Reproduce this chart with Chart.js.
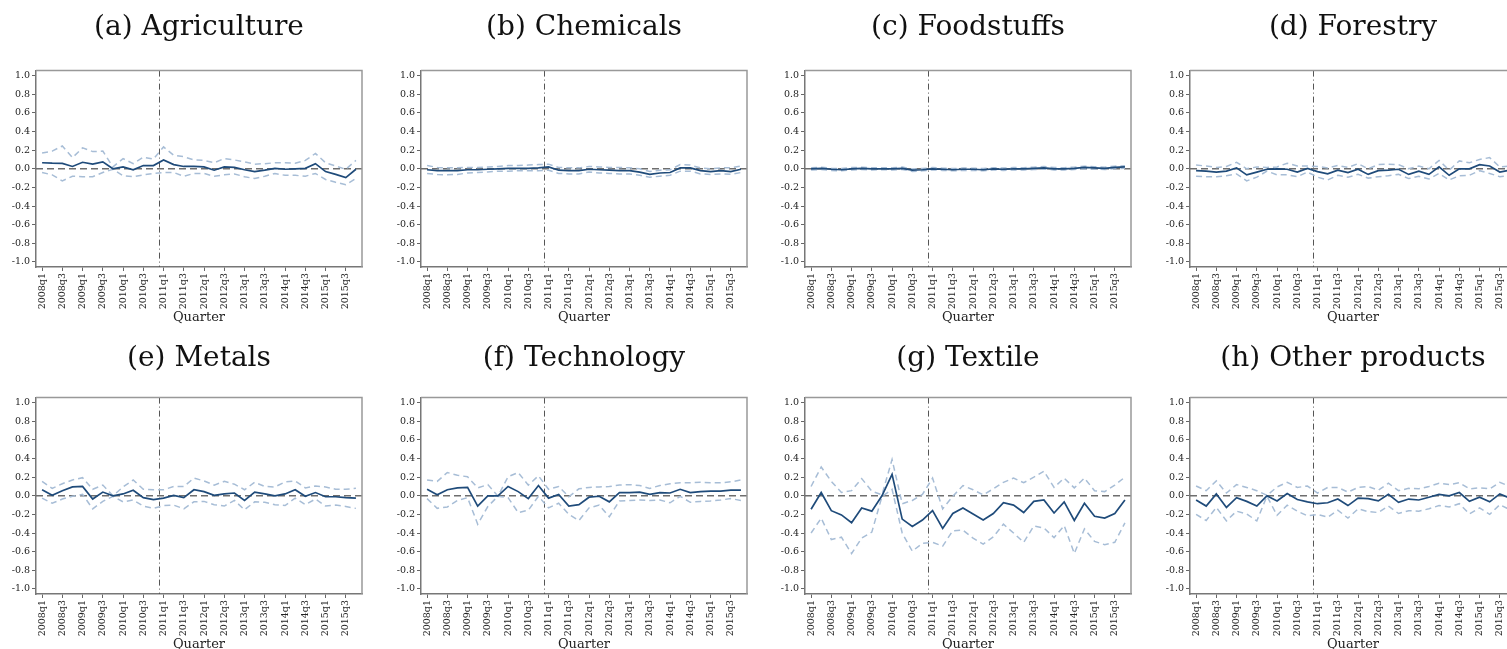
<!DOCTYPE html>
<html>
<head>
<meta charset="utf-8">
<script src="https://cdn.jsdelivr.net/npm/chart.js@4.4.1/dist/chart.umd.min.js"></script>
<style>
  body { margin: 0; background: #fff; width: 1507px; height: 649px; overflow: hidden; position: relative; }
  .panel { position: absolute; width: 385px; height: 327px; }
</style>
</head>
<body>
<script>
const quarters = ['2008q1','2008q2','2008q3','2008q4','2009q1','2009q2','2009q3','2009q4',
  '2010q1','2010q2','2010q3','2010q4','2011q1','2011q2','2011q3','2011q4',
  '2012q1','2012q2','2012q3','2012q4','2013q1','2013q2','2013q3','2013q4',
  '2014q1','2014q2','2014q3','2014q4','2015q1','2015q2','2015q3','2015q4'];
const yTicks = [-1.0, -0.8, -0.6, -0.4, -0.2, 0.0, 0.2, 0.4, 0.6, 0.8, 1.0];
const breakAt = 11.5; // between 2010q4 and 2011q1
const titles = ['(a) Agriculture', '(b) Chemicals', '(c) Foodstuffs', '(d) Forestry',
  '(e) Metals', '(f) Technology', '(g) Textile', '(h) Other products'];

const agriEst = [0.065,0.06,0.058,0.025,0.07,0.05,0.075,0.0,0.02,-0.01,0.035,0.035,0.095,0.045,0.025,0.025,0.02,-0.015,0.02,0.015,-0.01,-0.03,-0.015,0.005,-0.005,0.0,0.005,0.055,-0.03,-0.06,-0.095,-0.005];
const agriHi = [0.17,0.19,0.245,0.12,0.225,0.185,0.19,0.02,0.11,0.055,0.125,0.105,0.235,0.145,0.13,0.095,0.09,0.065,0.11,0.095,0.075,0.05,0.055,0.065,0.065,0.06,0.09,0.165,0.065,0.03,-0.005,0.09];
const agriLo = [-0.04,-0.065,-0.13,-0.08,-0.085,-0.085,-0.04,-0.005,-0.075,-0.085,-0.065,-0.05,-0.04,-0.04,-0.08,-0.05,-0.05,-0.08,-0.065,-0.055,-0.085,-0.105,-0.08,-0.05,-0.07,-0.07,-0.08,-0.05,-0.115,-0.145,-0.17,-0.105];

const chemEst = [-0.01,-0.02,-0.02,-0.02,-0.01,-0.01,-0.005,0.0,0.005,0.005,0.005,0.01,0.02,-0.015,-0.02,-0.02,-0.005,-0.01,-0.015,-0.02,-0.02,-0.035,-0.06,-0.045,-0.04,0.01,0.01,-0.02,-0.03,-0.02,-0.03,-0.005];
const chemHi = [0.035,0.015,0.01,0.01,0.015,0.015,0.02,0.025,0.035,0.035,0.04,0.045,0.05,0.015,0.01,0.01,0.025,0.02,0.015,0.015,0.01,0.0,-0.03,-0.015,-0.01,0.045,0.04,0.01,0.0,0.01,0.01,0.03];
const chemLo = [-0.05,-0.06,-0.065,-0.06,-0.045,-0.04,-0.035,-0.025,-0.025,-0.02,-0.02,-0.02,-0.015,-0.05,-0.055,-0.055,-0.035,-0.045,-0.05,-0.055,-0.055,-0.07,-0.09,-0.08,-0.07,-0.025,-0.025,-0.055,-0.06,-0.055,-0.06,-0.04];

const foodEst = [0.0,0.005,-0.005,-0.01,0.0,0.005,0.0,0.0,0.0,0.005,-0.015,-0.01,0.0,-0.005,-0.01,-0.005,-0.005,-0.01,0.0,-0.005,0.0,0.0,0.005,0.01,0.0,0.0,0.005,0.015,0.01,0.005,0.015,0.02];
const foodHi = [0.012,0.016,0.006,0.003,0.013,0.017,0.012,0.011,0.012,0.018,-0.002,0.003,0.013,0.007,0.002,0.008,0.007,0.003,0.012,0.008,0.013,0.012,0.018,0.024,0.013,0.012,0.018,0.028,0.023,0.018,0.028,0.034];
const foodLo = [-0.012,-0.007,-0.017,-0.022,-0.012,-0.008,-0.012,-0.011,-0.012,-0.007,-0.028,-0.022,-0.012,-0.017,-0.022,-0.017,-0.017,-0.022,-0.012,-0.017,-0.012,-0.012,-0.008,-0.003,-0.012,-0.012,-0.008,0.002,-0.003,-0.008,0.002,0.006];

const forEst = [-0.02,-0.025,-0.035,-0.025,0.01,-0.065,-0.035,-0.005,0.0,-0.005,-0.035,0.005,-0.03,-0.055,-0.015,-0.04,-0.005,-0.06,-0.02,-0.015,-0.005,-0.06,-0.025,-0.06,0.02,-0.07,0.0,0.0,0.045,0.03,-0.035,-0.015];
const forHi = [0.04,0.03,0.015,0.025,0.07,0.0,0.02,0.015,0.02,0.06,0.03,0.03,0.025,0.01,0.035,0.015,0.055,0.0,0.045,0.05,0.045,0.0,0.03,0.0,0.09,-0.015,0.085,0.065,0.1,0.12,0.02,0.03];
const forLo = [-0.08,-0.085,-0.085,-0.075,-0.055,-0.13,-0.09,-0.025,-0.065,-0.065,-0.085,-0.035,-0.09,-0.12,-0.07,-0.09,-0.06,-0.1,-0.085,-0.075,-0.06,-0.105,-0.08,-0.11,-0.05,-0.12,-0.075,-0.07,-0.02,-0.05,-0.085,-0.07];

const metEst = [0.065,0.005,0.055,0.095,0.1,-0.035,0.04,0.0,0.02,0.06,-0.02,-0.04,-0.025,0.005,-0.02,0.065,0.045,0.005,0.02,0.03,-0.05,0.04,0.02,0.0,0.02,0.065,-0.005,0.035,-0.01,-0.01,-0.02,-0.025];
const metHi = [0.155,0.08,0.13,0.17,0.195,0.07,0.115,0.0,0.095,0.17,0.07,0.065,0.065,0.1,0.1,0.19,0.16,0.115,0.155,0.125,0.065,0.145,0.1,0.095,0.15,0.16,0.085,0.105,0.095,0.07,0.07,0.08];
const metLo = [-0.025,-0.08,-0.035,-0.005,0.015,-0.14,-0.06,-0.005,-0.065,-0.045,-0.11,-0.135,-0.105,-0.1,-0.14,-0.065,-0.06,-0.095,-0.11,-0.05,-0.15,-0.065,-0.07,-0.095,-0.105,-0.025,-0.095,-0.035,-0.11,-0.1,-0.115,-0.135];

const techEst = [0.07,0.01,0.065,0.085,0.09,-0.11,0.0,0.0,0.1,0.045,-0.03,0.11,-0.025,0.015,-0.11,-0.095,-0.015,-0.005,-0.065,0.035,0.035,0.04,0.015,0.035,0.03,0.07,0.035,0.045,0.05,0.05,0.06,0.06];
const techHi = [0.17,0.155,0.25,0.22,0.205,0.085,0.12,-0.005,0.205,0.25,0.115,0.215,0.07,0.1,-0.01,0.075,0.09,0.095,0.1,0.115,0.12,0.11,0.08,0.11,0.13,0.14,0.14,0.145,0.14,0.14,0.15,0.17];
const techLo = [-0.03,-0.135,-0.12,-0.05,-0.02,-0.305,-0.115,-0.005,-0.02,-0.18,-0.155,-0.005,-0.13,-0.08,-0.2,-0.265,-0.13,-0.1,-0.225,-0.055,-0.05,-0.045,-0.05,-0.045,-0.075,-0.005,-0.07,-0.06,-0.055,-0.045,-0.03,-0.05];

const texEst = [-0.145,0.035,-0.16,-0.205,-0.29,-0.13,-0.165,0.0,0.23,-0.25,-0.33,-0.26,-0.16,-0.35,-0.19,-0.13,-0.195,-0.26,-0.19,-0.075,-0.1,-0.18,-0.06,-0.045,-0.185,-0.065,-0.265,-0.08,-0.22,-0.24,-0.19,-0.045];
const texHi = [0.1,0.31,0.155,0.035,0.055,0.185,0.05,0.01,0.39,-0.085,-0.05,0.015,0.19,-0.14,-0.005,0.11,0.065,0.01,0.075,0.145,0.19,0.14,0.2,0.265,0.09,0.19,0.085,0.19,0.055,0.045,0.115,0.2];
const texLo = [-0.4,-0.24,-0.47,-0.445,-0.62,-0.455,-0.39,-0.01,0.07,-0.4,-0.595,-0.51,-0.5,-0.54,-0.375,-0.37,-0.455,-0.52,-0.44,-0.305,-0.4,-0.5,-0.325,-0.345,-0.45,-0.32,-0.62,-0.355,-0.49,-0.525,-0.5,-0.29];

const othEst = [-0.045,-0.11,0.02,-0.125,-0.02,-0.06,-0.11,0.0,-0.055,0.025,-0.04,-0.065,-0.085,-0.075,-0.035,-0.105,-0.025,-0.03,-0.055,0.015,-0.07,-0.035,-0.045,-0.015,0.015,0.0,0.035,-0.06,-0.015,-0.065,0.02,-0.025];
const othHi = [0.105,0.055,0.16,0.03,0.12,0.09,0.055,0.005,0.095,0.145,0.09,0.105,0.03,0.09,0.09,0.04,0.09,0.1,0.06,0.135,0.055,0.08,0.075,0.1,0.135,0.12,0.14,0.075,0.085,0.075,0.145,0.1];
const othLo = [-0.2,-0.265,-0.125,-0.27,-0.165,-0.195,-0.27,-0.005,-0.21,-0.1,-0.165,-0.215,-0.2,-0.23,-0.155,-0.24,-0.14,-0.17,-0.18,-0.11,-0.19,-0.16,-0.165,-0.14,-0.105,-0.12,-0.085,-0.195,-0.13,-0.2,-0.095,-0.15];

const panels = [
  [agriEst, agriLo, agriHi], [chemEst, chemLo, chemHi], [foodEst, foodLo, foodHi], [forEst, forLo, forHi],
  [metEst, metLo, metHi], [techEst, techLo, techHi], [texEst, texLo, texHi], [othEst, othLo, othHi]
];

const estColor = '#1f4b7a';
const bandColor = '#a7bdd6';
const textColor = '#222';
const serif = 'DejaVu Serif';

// zero line, sample break and plot frame
const refLines = {
  id: 'refLines',
  beforeDatasetsDraw(chart) {
    const { ctx, chartArea: a, scales: { x, y } } = chart;
    ctx.save();
    const y0 = y.getPixelForValue(0);
    ctx.strokeStyle = '#6e6e6e';
    ctx.lineWidth = 1.6;
    ctx.setLineDash([7, 4]);
    ctx.beginPath(); ctx.moveTo(a.left, y0); ctx.lineTo(a.right, y0); ctx.stroke();
    const xb = Math.round(x.getPixelForValue(breakAt)) + 0.5;
    ctx.strokeStyle = '#555';
    ctx.lineWidth = 1;
    ctx.setLineDash([6, 3, 1, 3]);
    ctx.beginPath(); ctx.moveTo(xb, a.top); ctx.lineTo(xb, a.bottom); ctx.stroke();
    ctx.restore();
  },
  afterDraw(chart) {
    const { ctx, chartArea: a } = chart;
    ctx.save();
    ctx.strokeStyle = '#999';
    ctx.lineWidth = 1.5;
    ctx.beginPath();
    ctx.moveTo(a.left, a.top); ctx.lineTo(a.right, a.top); ctx.lineTo(a.right, a.bottom);
    ctx.stroke();
    ctx.restore();
  }
};

function pts(arr) { return arr.map((v, k) => ({ x: k, y: v })); }

panels.forEach(([est, lo, hi], i) => {
  const row = Math.floor(i / 4), col = i % 4;
  const div = document.createElement('div');
  div.className = 'panel';
  div.style.left = Math.round(col * 384.5) + 'px';
  div.style.top = (row * 327) + 'px';
  const canvas = document.createElement('canvas');
  canvas.width = 385; canvas.height = 327;
  div.appendChild(canvas);
  document.body.appendChild(div);

  new Chart(canvas, {
    type: 'line',
    data: {
      datasets: [
        { data: pts(est), borderColor: estColor, borderWidth: 1.7, pointRadius: 0, tension: 0 },
        { data: pts(hi), borderColor: bandColor, borderWidth: 1.5, borderDash: [6, 4], pointRadius: 0, tension: 0 },
        { data: pts(lo), borderColor: bandColor, borderWidth: 1.5, borderDash: [6, 4], pointRadius: 0, tension: 0 }
      ]
    },
    options: {
      responsive: false,
      animation: false,
      layout: { padding: { left: 6, right: 23, top: 0, bottom: 0 } },
      scales: {
        x: {
          type: 'linear',
          min: -0.6,
          max: 31.6,
          afterBuildTicks: s => { s.ticks = quarters.map((q, k) => ({ value: k })).filter(t => t.value % 2 === 0); },
          afterFit: s => { s.height = 60; },
          ticks: {
            autoSkip: false, minRotation: 90, maxRotation: 90, padding: 2,
            color: textColor, font: { family: serif, size: 9.5 },
            callback: v => quarters[v]
          },
          grid: { drawOnChartArea: false, tickLength: 4, tickColor: '#666' },
          border: { color: '#777', width: 1.5 },
          title: { display: true, text: 'Quarter', color: textColor, font: { family: serif, size: 13 }, padding: { top: 0, bottom: 2 } }
        },
        y: {
          min: -1.055,
          max: 1.055,
          afterBuildTicks: s => { s.ticks = yTicks.map(v => ({ value: v })); },
          afterFit: s => { s.width = 30; },
          ticks: {
            padding: 2, color: textColor, font: { family: serif, size: 9.5 },
            callback: v => v.toFixed(1)
          },
          grid: { drawOnChartArea: false, tickLength: 4, tickColor: '#666' },
          border: { color: '#777', width: 1.5 }
        }
      },
      plugins: {
        legend: { display: false },
        tooltip: { enabled: false },
        title: {
          display: true, text: titles[i], fullSize: false, color: '#111',
          font: { family: serif, size: 28, weight: 'normal' },
          padding: row === 0 ? { top: 11, bottom: 26 } : { top: 15, bottom: 22 }
        }
      }
    },
    plugins: [refLines]
  });
});
</script>
</body>
</html>
